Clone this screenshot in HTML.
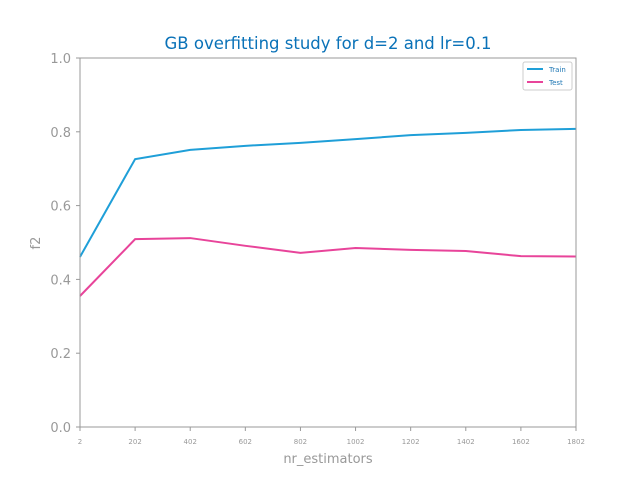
<!DOCTYPE html>
<html><head><meta charset="utf-8"><style>
body{margin:0;background:#fff;}
svg text{font-family:"DejaVu Sans","Liberation Sans",sans-serif;}
</style></head><body>
<svg id="chart" width="640" height="480" xmlns="http://www.w3.org/2000/svg">
<rect width="640" height="480" fill="#fff"/>
<text x="328" y="49" text-anchor="middle" font-size="16.5" style="fill:#0a72b8">GB overfitting study for d=2 and lr=0.1</text>
<g id="axes"></g>
<g id="series"></g>
<rect x="80" y="58" width="496" height="369" fill="none" stroke="#999" stroke-width="1"/>
<text x="328" y="463" text-anchor="middle" font-size="13" fill="#999">nr_estimators</text>
<text x="40" y="243" text-anchor="middle" font-size="13" fill="#999" transform="rotate(-90 40 243)">f2</text>
<g>
<rect x="523" y="62" width="49" height="28" fill="#fff" stroke="#ccc" rx="2"/>
<line x1="527" y1="69" x2="543" y2="69" stroke="#1f9fd8" stroke-width="2"/>
<text x="549" y="72" font-size="7" fill="#1f77b4">Train</text>
<line x1="527" y1="82" x2="543" y2="82" stroke="#e8449a" stroke-width="2"/>
<text x="549" y="85" font-size="7" fill="#1f77b4">Test</text>
</g>
</svg>
<script>
const categories=[2,202,402,602,802,1002,1202,1402,1602,1802];
const trainValues=[0.461,0.726,0.751,0.762,0.770,0.780,0.791,0.797,0.805,0.808];
const testValues=[0.355,0.509,0.512,0.491,0.472,0.485,0.480,0.477,0.463,0.462];
const yTicks=[0,0.2,0.4,0.6,0.8,1.0];
const NS="http://www.w3.org/2000/svg";
function xs(v){return 80+(v-2)/(1800)*496;}
function ys(v){return 427-v*369;}
const axes=document.getElementById('axes');
categories.forEach(c=>{
 const l=document.createElementNS(NS,'line');
 l.setAttribute('x1',xs(c));l.setAttribute('x2',xs(c));l.setAttribute('y1',427);l.setAttribute('y2',431);l.setAttribute('stroke','#999');
 
 
 axes.appendChild(l);
 const t=document.createElementNS(NS,'text');
 t.setAttribute('x',xs(c));t.setAttribute('y',444);t.setAttribute('text-anchor','middle');t.setAttribute('font-size','7');t.setAttribute('fill','#999');
 t.textContent=c;
 
 
 axes.appendChild(t);
});
yTicks.forEach(v=>{
 const l=document.createElementNS(NS,'line');
 l.setAttribute('x1',76);l.setAttribute('x2',80);l.setAttribute('y1',ys(v));l.setAttribute('y2',ys(v));l.setAttribute('stroke','#999');
 
 
 axes.appendChild(l);
 const t=document.createElementNS(NS,'text');
 t.setAttribute('x',71);t.setAttribute('y',ys(v)+5);t.setAttribute('text-anchor','end');t.setAttribute('font-size','13');t.setAttribute('fill','#999');
 t.textContent=v.toFixed(1);
 
 
 axes.appendChild(t);
});
const series=document.getElementById('series');
function line(vals,color,name){
 const p=document.createElementNS(NS,'polyline');
 p.setAttribute('points',vals.map((v,i)=>xs(categories[i])+','+ys(v)).join(' '));
 p.setAttribute('fill','none');p.setAttribute('stroke',color);p.setAttribute('stroke-width','2');
 
 
 series.appendChild(p);
}
line(trainValues,'#1f9fd8','train-line');
line(testValues,'#e8449a','test-line');
</script>
</body></html>
